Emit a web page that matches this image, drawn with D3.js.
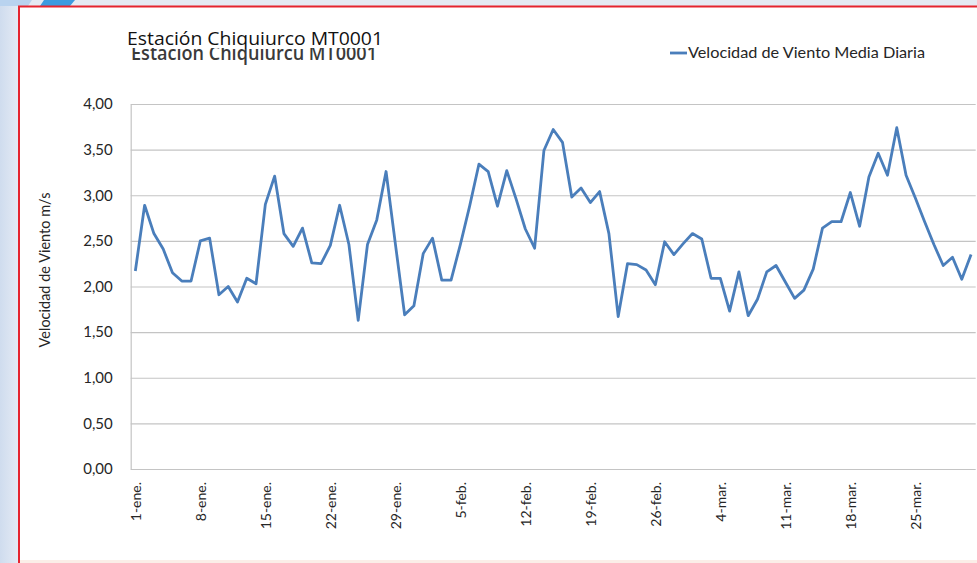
<!DOCTYPE html>
<html><head><meta charset="utf-8">
<script src="https://cdn.jsdelivr.net/npm/d3@7/dist/d3.min.js"></script>
<style>html,body{margin:0;padding:0;background:#e3e9f3;overflow:hidden}</style>
</head><body>
<svg id="c" width="977" height="563"></svg>
<script>
const titleMain = "Estación Chiquiurco  MT0001";
const titleBack = "Estacion Chiquiurcu MT0001";
const seriesName = "Velocidad de Viento Media Diaria";
const yTitle = "Velocidad de Viento m/s";
const startDate = new Date(2024, 0, 1);
const endDate = new Date(2024, 3, 1);
const windSpeed = [
 2.17,2.89,2.58,2.41,2.15,2.06,2.06,2.50,2.53,1.91,2.00,1.83,2.09,2.03,2.90,3.21,2.58,2.44,2.64,2.26,2.25,2.45,2.89,
 2.46,1.63,2.46,2.73,3.26,2.47,1.69,1.79,2.36,2.53,2.07,2.07,2.46,2.88,3.34,3.26,2.88,3.27,2.96,2.63,2.42,3.49,3.72,
 3.58,2.98,3.08,2.92,3.04,2.58,1.67,2.25,2.24,2.18,2.02,2.49,2.35,2.47,2.58,2.52,2.09,2.09,1.73,2.16,1.68,1.86,
 2.16,2.23,2.05,1.87,1.96,2.19,2.64,2.71,2.71,3.03,2.66,3.20,3.46,3.22,3.74,3.22,2.97,2.71,2.46,2.23,2.32,2.08,2.35
];
const tickLabels = ["1-ene.","8-ene.","15-ene.","22-ene.","29-ene.","5-feb.","12-feb.","19-feb.","26-feb.","4-mar.","11-mar.","18-mar.","25-mar."];
const yTicks = [0,0.5,1,1.5,2,2.5,3,3.5,4];

const days = d3.timeDay.range(startDate, endDate);
const data = days.map((d,i)=>({date:d, v:windSpeed[i]}));
const svg = d3.select("#c");
const FONT = "Lato, 'Open Sans', sans-serif";

// background decoration
const defs = svg.append("defs");
const g1 = defs.append("linearGradient").attr("id","lg").attr("x1",0).attr("y1",0).attr("x2",1).attr("y2",0);
g1.append("stop").attr("offset","0").attr("stop-color","#cfdcee");
g1.append("stop").attr("offset","1").attr("stop-color","#e6ecf5");
svg.append("rect").attr("x",0).attr("y",0).attr("width",977).attr("height",563).attr("fill","#e5eaf3");
svg.append("rect").attr("x",0).attr("y",0).attr("width",20).attr("height",563).attr("fill","url(#lg)");
svg.append("polygon").attr("points","0,0 32,0 28,6 0,6").attr("fill","#b9d3ef");
svg.append("polygon").attr("points","44,0 75,0 70,6 40,6").attr("fill","#3d9be0");

// white panel with red border (bottom edge faded)
svg.append("rect").attr("x",19).attr("y",6.5).attr("width",1000).attr("height",560).attr("fill","#fff");
svg.append("path").attr("d","M19,563 V6.5 H977").attr("fill","none").attr("stroke","#e5242f").attr("stroke-width",2);
svg.append("line").attr("x1",20).attr("x2",977).attr("y1",561.5).attr("y2",561.5).attr("stroke","#fbeee8").attr("stroke-width",3);

const x = d3.scaleBand().domain(days.map(d=>+d)).range([130.7, 975.7]).padding(0);
const y = d3.scaleLinear().domain([0,4]).range([469,104]);
const cx = d => x(+d) + x.bandwidth()/2;

// gridlines
const grid = svg.append("g").attr("class","grid")
  .call(d3.axisLeft(y).tickValues(yTicks).tickSize(-(975.7-130.7)).tickFormat(""))
  .attr("transform","translate(130.7,0)");
grid.select(".domain").remove();
grid.selectAll("line").attr("stroke","#c4c4c4").attr("stroke-width",1.2);

// y axis labels
const yAx = svg.append("g").attr("transform","translate(130.7,0)")
  .call(d3.axisLeft(y).tickValues(yTicks).tickSize(0).tickPadding(18)
    .tickFormat(v=>d3.format(".2f")(v).replace(".",",")));
yAx.select(".domain").attr("stroke","#c4c4c4").attr("stroke-width",1.2);
yAx.selectAll("text").attr("font-family",FONT).attr("font-size",15).attr("fill","#262626");

// x axis labels
const tickDays = tickLabels.map((t,i)=>+days[i*7]);
const xAx = svg.append("g").attr("transform","translate(0,469)")
  .call(d3.axisBottom(x).tickValues(tickDays).tickSize(0).tickFormat((d,i)=>tickLabels[i]));
xAx.select(".domain").remove();
xAx.selectAll("text").attr("font-family",FONT).attr("font-size",14).attr("fill","#262626")
  .attr("text-anchor","end").attr("dy","0.35em").attr("dx","0")
  .attr("transform","translate(1,13) rotate(-90)").attr("x",0).attr("y",0);

// line
svg.append("path").datum(data)
  .attr("d", d3.line().x(d=>cx(d.date)).y(d=>y(d.v)))
  .attr("fill","none").attr("stroke","#4a7ebb").attr("stroke-width",2.8).attr("stroke-linejoin","round");

// y title
svg.append("text").attr("transform","translate(50,270) rotate(-90)")
  .attr("text-anchor","middle").attr("font-family",FONT).attr("font-size",14.5).attr("fill","#262626").text(yTitle);

// titles (the reference shows a new title pasted over the older one)
svg.append("text").attr("x",131).attr("y",60).attr("font-family","'Open Sans', sans-serif").attr("font-weight",600)
  .attr("font-size",19).attr("fill","#3a3a3a").attr("textLength",246).attr("lengthAdjust","spacingAndGlyphs").text(titleBack);
svg.append("rect").attr("x",124).attr("y",20).attr("width",266).attr("height",28).attr("fill","#fff");
svg.append("text").attr("x",127).attr("y",45).attr("font-family","'Open Sans', sans-serif")
  .attr("font-size",18.5).attr("fill","#111").attr("textLength",256).attr("lengthAdjust","spacingAndGlyphs").text(titleMain);

// legend
svg.append("line").attr("x1",670).attr("x2",687).attr("y1",53).attr("y2",53).attr("stroke","#4a7ebb").attr("stroke-width",2.8);
svg.append("text").attr("x",688).attr("y",58).attr("font-family",FONT).attr("font-size",15).attr("fill","#262626")
  .attr("textLength",237).attr("lengthAdjust","spacingAndGlyphs").text(seriesName);
</script>
</body></html>
